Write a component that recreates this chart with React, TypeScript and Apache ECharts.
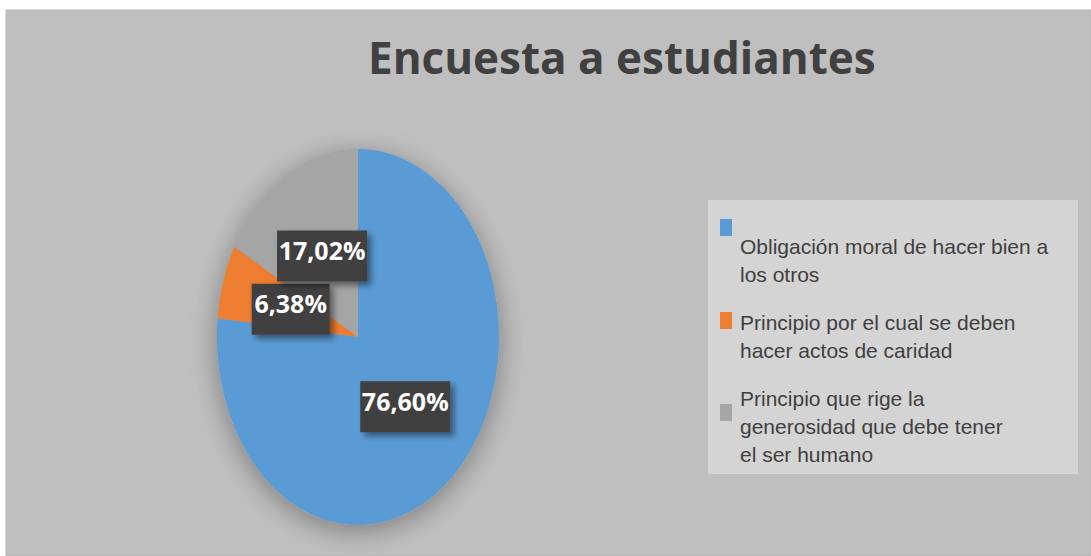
import React, { useEffect, useRef } from "react";
import * as echarts from "echarts";

const chartTitle = "Encuesta a estudiantes";
const categories = [
  "Obligación moral de hacer bien a\nlos otros",
  "Principio por el cual se deben\nhacer actos de caridad",
  "Principio que rige la\ngenerosidad que debe tener\nel ser humano",
];
const values = [76.6, 6.38, 17.02];
const colors = ["#5b9bd5", "#ed7d31", "#a5a5a5"];

export default function App() {
  const ref = useRef<HTMLDivElement>(null);
  useEffect(() => {
    document.body.style.margin = "0";
    const chart = echarts.init(ref.current!, null, { renderer: "svg" });
    const total = values.reduce((a, b) => a + b, 0);
    let cum = 0;
    const data = values.map((v, i) => {
      const d = { name: categories[i], value: [v, cum] };
      cum += v;
      return d;
    });
    const CX = 358, CY = 337, RX = 141, RY = 188;

    const renderItem = (params: any, api: any) => {
      const i = params.dataIndex;
      const v = api.value(0);
      const start = api.value(1);
      const a0 = -Math.PI / 2 + (start / total) * 2 * Math.PI;
      const a1 = a0 + (v / total) * 2 * Math.PI;
      const mid = (a0 + a1) / 2;
      const lx = CX + RX * 0.5 * Math.cos(mid);
      const ly = CY + RY * 0.5 * Math.sin(mid);
      const text = v.toFixed(2).replace(".", ",") + "%";
      const w = 18 + 12 * text.length;
      const children: any[] = [];
      if (i === 0) {
        children.push({
          type: "ellipse",
          shape: { cx: CX, cy: CY, rx: RX, ry: RY },
          style: {
            fill: "#a0a0a0",
            shadowBlur: 28,
            shadowOffsetY: 6,
            shadowColor: "rgba(0,0,0,0.35)",
          },
          z2: 0,
        });
      }
      children.push({
        type: "sector",
        shape: { cx: 0, cy: 0, r: RX, startAngle: a0, endAngle: a1, clockwise: true },
        x: CX,
        y: CY,
        scaleY: RY / RX,
        style: { fill: colors[i] },
        z2: 1,
      });
      children.push({
        type: "rect",
        shape: { x: lx - w / 2, y: ly - 25.5, width: w, height: 51 },
        style: {
          fill: "#404040",
          shadowBlur: 6,
          shadowOffsetX: 4,
          shadowOffsetY: 4,
          shadowColor: "rgba(0,0,0,0.45)",
        },
        z2: 10,
      });
      children.push({
        type: "text",
        x: lx,
        y: ly - 6,
        style: {
          text,
          fill: "#ffffff",
          fontFamily: "Open Sans",
          fontWeight: "bold",
          fontSize: 25,
          align: "center",
          verticalAlign: "middle",
        },
        z2: 11,
      });
      return { type: "group", children };
    };

    const legendEls: any[] = [];
    const markerOffsets = [-13, 4, 20];
    let top = 232;
    categories.forEach((name, i) => {
      const lines = name.split("\n").length;
      legendEls.push({
        type: "rect",
        shape: { x: 720, y: top + markerOffsets[i], width: 12, height: 17 },
        style: { fill: colors[i] },
        z: 2,
      });
      legendEls.push({
        type: "text",
        x: 740,
        y: top,
        style: {
          text: name,
          fill: "#404040",
          fontFamily: "Liberation Sans",
          fontSize: 21,
          lineHeight: 28,
          verticalAlign: "top",
        },
        z: 2,
      });
      top += lines * 28 + 20;
    });

    chart.setOption({
      animation: false,
      graphic: [
        {
          type: "rect",
          shape: { x: 6, y: 10, width: 1085, height: 546 },
          style: { fill: "#bfbfbf", stroke: "#b4b4b4", lineWidth: 1 },
          z: 0,
        },
        {
          type: "text",
          x: 368,
          y: 57,
          style: {
            text: chartTitle,
            fill: "#404040",
            fontFamily: "Open Sans",
            fontWeight: "bold",
            fontSize: 44,
            verticalAlign: "middle",
          },
          z: 1,
        },
        {
          type: "rect",
          shape: { x: 708, y: 200, width: 370, height: 274 },
          style: { fill: "#d4d4d4" },
          z: 1,
        },
        ...legendEls,
      ],
      series: [
        {
          type: "custom",
          coordinateSystem: "none",
          renderItem,
          data,
          z: 5,
        },
      ],
    });
    return () => chart.dispose();
  }, []);
  return <div ref={ref} style={{ width: 1091, height: 556 }} />;
}
